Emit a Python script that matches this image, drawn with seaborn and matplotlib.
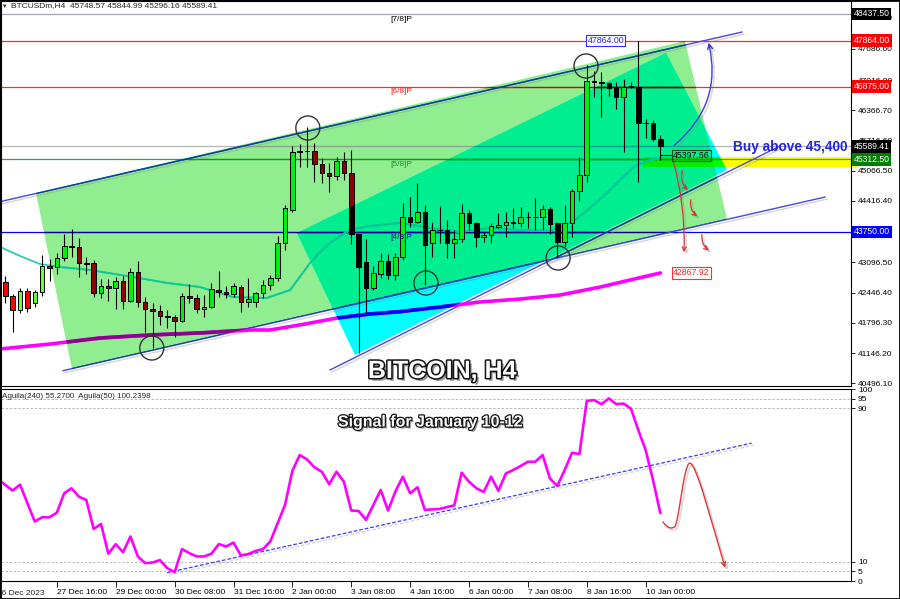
import numpy as np
import pandas as pd
import matplotlib
matplotlib.use("Agg")
import matplotlib.pyplot as plt
import matplotlib.colors as mcolors
import matplotlib.patheffects as pe
import matplotlib.transforms as mtransforms
from matplotlib.patches import Polygon, Rectangle, FancyArrowPatch
from matplotlib.path import Path
import seaborn as sns

# ==========================================
# DATA: BTCUSD H4 candles (index 1 = 26 Dec 2023 12:00)
# ==========================================
candle_idx = list(range(1, 91))
opens = [42668, 42373, 42072, 42487, 42216, 42453, 43024, 42990, 43184, 43455,
         43420, 43089, 43076, 42431, 42588, 42551, 42695, 42272, 42896, 42251,
         42093, 42050, 41943, 41928, 41842, 42379, 42336, 42087, 42130, 42502,
         42465, 42410, 42573, 42251, 42237, 42431, 42610, 42753, 43506, 44222,
         45476, 45490, 45501, 45205, 45024, 44953, 45286, 45011, 43713, 43104,
         42545, 42846, 43126, 42825, 43218, 44078, 43971, 44186, 43506, 43792,
         43800, 43506, 43592, 44164, 43936, 43648, 43685, 43850, 43900, 43957,
         43950, 44078, 44072, 44061, 44233, 43936, 43541, 43953, 44631, 44975,
         46996, 46980, 46946, 46873, 46641, 46873, 46860, 46086, 46094, 45748.57]
highs = [42803, 42416, 42538, 42538, 42502, 43255, 43162, 43291, 43706, 43807,
         43614, 43205, 43147, 42732, 42732, 42788, 42803, 42969, 43126, 42358,
         42216, 42180, 42072, 41964, 42444, 42624, 42410, 42395, 42659, 42911,
         42588, 42646, 42610, 42753, 42465, 42717, 42825, 43663, 44329, 45598,
         45641, 46007, 45673, 45340, 45233, 45368, 45476, 45512, 43713, 43599,
         43018, 43291, 43276, 43291, 44366, 44508, 44796, 44330, 43971, 44308,
         44007, 43792, 44351, 44222, 43971, 43756, 43936, 44151, 44186, 44258,
         44293, 44186, 44487, 44330, 44287, 43971, 44330, 44674, 45368, 47340,
         47211, 47183, 46980, 46980, 47039, 46980, 47864, 46170, 46157, 45844.99]
lows = [42216, 41605, 42014, 42035, 42130, 42373, 42702, 42840, 43126, 43205,
        42788, 42846, 42345, 42324, 42272, 42087, 42087, 42251, 42143, 41605,
        41249, 41750, 41679, 41498, 41820, 42216, 42001, 41928, 42109, 42358,
        42324, 42358, 42035, 42143, 42143, 42324, 42502, 42695, 43362, 44186,
        45153, 45147, 44831, 44796, 44616, 44867, 44867, 43491, 41141, 42001,
        42502, 42753, 42739, 42717, 43147, 43863, 43936, 42610, 43218, 43506,
        43184, 43184, 43541, 43792, 43433, 43541, 43506, 43829, 43648, 43829,
        43863, 43829, 43792, 43792, 43706, 43201, 43427, 43631, 44416, 44831,
        46658, 46228, 46673, 46394, 45469, 46839, 44831, 45760, 45695, 45296.16]
closes = [42373, 42072, 42487, 42109, 42453, 43024, 42981, 43184, 43448, 43420,
          43076, 43061, 42431, 42588, 42551, 42695, 42272, 42896, 42251, 42087,
          42050, 41943, 41915, 41842, 42379, 42336, 42087, 42143, 42517, 42465,
          42410, 42588, 42251, 42302, 42431, 42610, 42753, 43506, 44258, 45476,
          45497, 45501, 45205, 45024, 44953, 45286, 45011, 43713, 43003, 42545,
          42861, 43126, 42825, 43218, 44078, 43971, 44186, 43470, 43792, 43800,
          43506, 43592, 44164, 43936, 43648, 43685, 43878, 43900, 43957, 43950,
          44078, 44072, 44061, 44233, 43921, 43541, 43953, 44631, 44975, 46996,
          46970, 46946, 46839, 46641, 46873, 46895, 46086, 46082, 45748.57, 45589.41]

# moving averages (read at points)
ma_fast_idx = [0.3, 3.0, 5.7, 8.4, 12.5, 18.3, 23.0, 27.4, 31.9, 36.5, 39.7, 41.0, 42.4,
               43.8, 45.1, 46.5, 47.8, 50.5, 54.6, 58.7, 62.8, 66.8, 70.9, 75.0, 77.0,
               78.4, 80.4, 82.9, 84.5, 86.5, 88.6, 90.0]
ma_fast_val = [43427, 43233, 43061, 42997, 42932, 42782, 42653, 42567, 42352, 42330, 42502,
               42782, 43083, 43319, 43513, 43663, 43792, 43878, 43943, 43835, 43749, 43835,
               43792, 43771, 43900, 44007, 44265, 44609, 44867, 45168, 45297, 45340]
ma_slow_idx = [0.3, 7.1, 13.9, 20.7, 27.4, 34.2, 36.9, 41.0, 46.1, 50.5, 54.6, 60.1, 65.5,
               71.0, 76.4, 81.8, 85.9, 90.0]
ma_slow_val = [41234, 41341, 41470, 41535, 41578, 41642, 41642, 41750, 41900, 41986, 42036,
               42137, 42244, 42309, 42395, 42565, 42717, 42868]

# oscillator (Aguila) one value per candle, index 0..90
osc_val = [53.1, 50.0, 47.1, 50.2, 40.5, 31.0, 33.2, 33.2, 35.6, 45.7,
           48.3, 43.9, 42.2, 27.1, 29.7, 14.2, 19.2, 15.0, 23.2, 12.8,
           9.3, 9.6, 10.9, 6.7, 4.6, 16.6, 14.5, 12.8, 12.8, 14.2,
           19.2, 18.0, 20.0, 13.3, 14.0, 15.7, 16.6, 20.6, 30.1, 39.6,
           57.4, 65.6, 63.3, 59.2, 56.9, 50.4, 56.9, 51.7, 36.7, 36.5,
           31.8, 39.6, 47.4, 36.7, 46.6, 54.3, 45.7, 48.8, 37.0, 37.3,
           37.5, 38.5, 39.4, 56.4, 51.7, 48.3, 46.4, 54.3, 46.9, 56.0,
           57.8, 59.9, 62.1, 62.1, 65.6, 53.4, 49.5, 57.8, 66.8, 66.1,
           93.8, 94.2, 92.1, 95.1, 92.1, 92.4, 89.8, 78.6, 68.2, 52.6,
           35.3]

# horizontal levels
level_prices = [48437.5, 47864.0, 46875.0, 45589.41, 45312.5, 43750.0]
level_colors = ['#a4a4b4', '#ff2a2a', '#ff2a2a', '#b4b4b4', '#40a040', '#0000ff']
level_boxes = ['#000000', '#ff0000', '#ff0000', '#000000', '#008000', '#0000ff']
murrey_names = ['[7/8]P', '[6/8]P', '[5/8]P', '[4/8]P']
murrey_prices = [48437.5, 46875.0, 45312.5, 43750.0]
murrey_colors = ['#000000', '#ff2020', '#2e8b2e', '#000090']

price_ticks = [40496.1, 41146.2, 41796.3, 42446.4, 43096.5, 44416.4,
               45066.5, 45716.6, 46366.7, 47016.8, 47686.6, 48356.7]
time_ticks = [8, 16, 24, 32, 40, 48, 56, 64, 72, 80, 88]
time_labels = ['27 Dec 16:00', '29 Dec 00:00', '30 Dec 08:00', '31 Dec 16:00',
               '2 Jan 00:00', '3 Jan 08:00', '4 Jan 16:00', '6 Jan 00:00',
               '7 Jan 08:00', '8 Jan 16:00', '10 Jan 00:00']

# drawn objects (index, price)
light_zone_x = [5.16, 10.05, 99.05, 93.34]
light_zone_y = [44587.5, 40803.5, 44028.5, 47855.5]
bright_zone_x = [40.63, 48.5, 99.05, 90.76]
bright_zone_y = [43727.5, 41104.5, 45082.0, 47597.5]
channel_lines = [((0.27, 44400.5), (101.1, 48049.0)),
                 ((8.83, 40767.0), (112.4, 44501.5)),
                 ((45.1, 40782.0), (106.25, 45598.0))]
circle_x = [42.1, 79.9, 58.15, 76.1, 20.9]
circle_y = [45985, 47318, 42652, 43190, 41255]
buy_zone = (45150, 45360)

LIGHT = '#90EE90'
BRIGHT = '#00FFFF'


def band(color, *masks):
    # MT4 draws background objects by AND-ing colours
    v = np.array([int(round(c * 255)) for c in mcolors.to_rgb(color)])
    for m in masks:
        v = v & np.array([int(round(c * 255)) for c in mcolors.to_rgb(m)])
    return tuple(v / 255.0)


def intersect(subj, clip):
    def area(p):
        return sum(p[i][0] * p[(i + 1) % len(p)][1] - p[(i + 1) % len(p)][0] * p[i][1]
                   for i in range(len(p)))
    s = np.sign(area(clip))

    def inside(a, b, p):
        return s * ((b[0] - a[0]) * (p[1] - a[1]) - (b[1] - a[1]) * (p[0] - a[0])) >= 0

    def cut(p, q, a, b):
        x1, y1 = p; x2, y2 = q; x3, y3 = a; x4, y4 = b
        den = (x1 - x2) * (y3 - y4) - (y1 - y2) * (x3 - x4)
        t = ((x1 - x3) * (y3 - y4) - (y1 - y3) * (x3 - x4)) / den
        return (x1 + t * (x2 - x1), y1 + t * (y2 - y1))

    out = list(subj)
    for i in range(len(clip)):
        a, b = clip[i], clip[(i + 1) % len(clip)]
        inp, out = out, []
        for j in range(len(inp)):
            p, q = inp[j - 1], inp[j]
            if inside(a, b, q):
                if not inside(a, b, p):
                    out.append(cut(p, q, a, b))
                out.append(q)
            elif inside(a, b, p):
                out.append(cut(p, q, a, b))
    return out


# ==========================================
# FIGURE
# ==========================================
sns.set_theme(style="white")
plt.rcParams['font.family'] = ['Liberation Sans', 'DejaVu Sans']
plt.rcParams['axes.linewidth'] = 0.8

W, H = 900, 599
fig = plt.figure(figsize=(9, 5.99), dpi=100)
ax = fig.add_axes([1 / W, 1 - 386 / H, 850 / W, 385 / H])
axi = fig.add_axes([1 / W, 1 - 581 / H, 850 / W, 192 / H])
XLIM = (0.41, 115.9)

light = list(zip(light_zone_x, light_zone_y))
bright = list(zip(bright_zone_x, bright_zone_y))
both = intersect(bright, light)

ax.add_patch(Polygon(light, closed=True, fc=LIGHT, ec='none', zorder=1))
ax.add_patch(Polygon(bright, closed=True, fc=BRIGHT, ec='none', zorder=1))
ax.add_patch(Polygon(both, closed=True, fc=band(LIGHT, BRIGHT), ec='none', zorder=1))

regions = [(Polygon(light, closed=True, transform=ax.transData), [LIGHT]),
           (Polygon(bright, closed=True, transform=ax.transData), [BRIGHT]),
           (Polygon(both, closed=True, transform=ax.transData), [LIGHT, BRIGHT])]


def layered(draw, color):
    draw(color, None)
    for patch, masks in regions:
        arts = draw(band(color, *masks), patch)
        for a in arts:
            a.set_clip_path(patch)


# yellow buy zone
def draw_zone(c, clip):
    r = Rectangle((87.6, buy_zone[0]), 116.85 - 87.6, buy_zone[1] - buy_zone[0],
                  fc=c, ec='none', zorder=1.5)
    ax.add_patch(r)
    if clip is None:
        r.set_clip_on(False)
    return [r]


layered(draw_zone, '#ffff00')

# horizontal levels
for lp, lc in zip(level_prices, level_colors):
    layered(lambda c, clip, lp=lp: [ax.axhline(lp, color=c, lw=0.9, zorder=2)], lc)

# channel / trend lines
shadow = [pe.SimpleLineShadow(offset=(1.5, -1.5), shadow_color='#888888', alpha=0.35), pe.Normal()]
for (x0, y0), (x1, y1) in channel_lines:
    def draw_ch(c, clip, x0=x0, y0=y0, x1=x1, y1=y1):
        ln, = ax.plot([x0, x1], [y0, y1], color=c, lw=1.0, zorder=2.5)
        if clip is None:
            ln.set_path_effects(shadow)
        return [ln]
    layered(draw_ch, '#4848dc')


# moving averages
def draw_ma(xs, ys, lw):
    def f(c, clip):
        if clip is None:
            sns.lineplot(x=xs, y=ys, ax=ax, color=c, lw=lw, zorder=3)
            return []
        ln, = ax.plot(xs, ys, color=c, lw=lw, zorder=3)
        return [ln]
    return f


layered(draw_ma(ma_fast_idx, ma_fast_val, 1.3), '#30c8b8')
layered(draw_ma(ma_slow_idx, ma_slow_val, 2.6), '#ff00ff')

# candles
df = pd.DataFrame({'i': candle_idx, 'o': opens, 'h': highs, 'l': lows, 'c': closes})
df['bottom'] = df[['o', 'c']].min(axis=1)
df['height'] = (df['c'] - df['o']).abs()
ax.vlines(df['i'], df['l'], df['h'], color='black', lw=0.8, zorder=3.5)
for mask, col in [(df['c'] >= df['o'], '#66ff33'), (df['c'] < df['o'], '#ff0000')]:
    sub = df[mask]

    def draw_body(c, clip, sub=sub):
        bars = ax.bar(sub['i'], sub['height'], bottom=sub['bottom'], width=0.62,
                      color=c, edgecolor='black', linewidth=0.7, zorder=4)
        return list(bars)
    layered(draw_body, col)

# circles
ax.scatter(circle_x, circle_y, s=300, facecolors='none', edgecolors='#333333',
           linewidths=1.0, zorder=6)

# arrows
ax.add_patch(FancyArrowPatch((91.6, 45576), (96.47, 47877), connectionstyle='arc3,rad=0.32',
                             arrowstyle='->', mutation_scale=9, color='#3b3bdd', lw=1.0,
                             zorder=7, path_effects=shadow))
for a, b, r in [((91.7, 45297), (93.2, 43255), -0.08),
                ((93.1, 45125), (94.0, 44609), 0.35),
                ((94.2, 44500), (95.3, 44050), 0.35),
                ((95.7, 43750), (96.9, 43320), 0.35)]:
    ax.add_patch(FancyArrowPatch(a, b, connectionstyle=f'arc3,rad={r}', arrowstyle='->',
                                 mutation_scale=7, color='#d83030', lw=0.9, zorder=7,
                                 path_effects=shadow))

# labels inside chart
for name, mp, mc in zip(murrey_names, murrey_prices, murrey_colors):
    ax.text(53.3, mp - 40, name, color=mc, fontsize=6, va='top', ha='left', zorder=8)

ax.text(80.1, 47864, '47864.00', color='#2020ff', fontsize=6.3, ha='left', va='center', zorder=8,
        bbox=dict(boxstyle='square,pad=0.15', fc='white', ec='#3030ff', lw=0.8))
ax.text(91.7, 45397.66, '45397.66', color='black', fontsize=6.3, ha='left', va='center', zorder=8,
        bbox=dict(boxstyle='square,pad=0.15', fc='none', ec='#1a4a1a', lw=0.8))
ax.plot([89.9, 91.6], [45397.66, 45397.66], color='black', lw=0.8, zorder=7)
ax.text(91.7, 42867.92, '42867.92', color='#ff2020', fontsize=6.3, ha='left', va='center', zorder=8,
        bbox=dict(boxstyle='square,pad=0.15', fc='white', ec='#ff3030', lw=0.8))

ax.text(99.8, 45575, 'Buy above 45,400', color='#2323e6', fontsize=9.8,
        fontweight='bold', ha='left', va='center', zorder=8, clip_on=False)

# price axis
blend = mtransforms.blended_transform_factory(ax.transAxes, ax.transData)
ax.set_xlim(*XLIM)
ax.set_ylim(40438, 48715.5)
ax.yaxis.tick_right()
ax.set_yticks(price_ticks)
ax.set_yticklabels([f'{t:.2f}' for t in price_ticks])
ax.tick_params(axis='y', labelsize=6, length=3, width=0.6, pad=2, colors='black', right=True)
ax.tick_params(axis='x', bottom=False, labelbottom=False)
ax.set_xlabel('')
ax.set_ylabel('')
for lp, bc in zip(level_prices, level_boxes):
    ax.text(1.003, lp, f'{lp:.2f}', transform=blend, color='white', fontsize=6.2,
            ha='left', va='center', clip_on=False, zorder=9,
            bbox=dict(boxstyle='square,pad=0.22', fc=bc, ec='none'))

# ==========================================
# OSCILLATOR PANEL
# ==========================================
for v in [5, 10, 90, 95]:
    axi.axhline(v, color='#b0b0b0', lw=0.6, ls=(0, (3, 2)), zorder=1)
sns.lineplot(x=list(range(len(osc_val))), y=osc_val, ax=axi, color='#ff00ff', lw=1.9, zorder=3)
axi.plot([22.96, 102.4], [4.3, 71.8], color='#3a3aff', lw=0.9, ls=(0, (3, 1.5)), zorder=2,
         path_effects=shadow)
curve = Path([(90.35, 30.8), (91.0, 27.2), (91.6, 27.0), (92.0, 28.5),
              (92.6, 33.0), (93.2, 61.4), (94.0, 61.4),
              (94.9, 61.4), (97.0, 30.0), (98.8, 6.9)],
             [Path.MOVETO] + [Path.CURVE4] * 9)
axi.add_patch(FancyArrowPatch(path=curve, arrowstyle='->', mutation_scale=8, color='#e03535',
                              lw=1.0, zorder=4, path_effects=shadow))

axi.set_xlim(*XLIM)
axi.set_ylim(0, 100)
axi.yaxis.tick_right()
axi.set_yticks([0, 5, 10, 90, 95, 100])
axi.set_yticklabels(['0', '5', '10', '90', '95', '100'])
axi.tick_params(axis='y', labelsize=6, length=3, width=0.6, pad=2, colors='black', right=True)
axi.set_xticks(time_ticks)
axi.set_xticklabels(time_labels, ha='left')
axi.tick_params(axis='x', labelsize=6, length=4, width=0.6, pad=2, colors='black', bottom=True)
axi.set_xlabel('')
axi.set_ylabel('')
axi.text(-0.15, -4.5, '26 Dec 2023', fontsize=6, ha='left', va='top', clip_on=False)

for a in (ax, axi):
    for sp in a.spines.values():
        sp.set_color('black')
        sp.set_linewidth(0.8)

# texts
fig.text(2 / W, 1 - 6 / H, '\u25bc', fontsize=4, va='center', ha='left')
fig.text(11 / W, 1 - 6 / H, 'BTCUSDm,H4  45748.57 45844.99 45296.16 45589.41',
         fontsize=6, va='center', ha='left')
fig.text(2 / W, 1 - 396 / H, 'Aguila(240) 55.2700  Aguila(50) 100.2398',
         fontsize=5.8, va='center', ha='left', zorder=10)
fig.text(442 / W, 1 - 371 / H, 'BITCOIN, H4', fontsize=18, fontweight='bold', color='white',
         ha='center', va='center', zorder=10,
         path_effects=[pe.SimplePatchShadow(offset=(2, -2), shadow_rgbFace='#555555', alpha=0.6),
                       pe.Stroke(linewidth=2.2, foreground='#111111'), pe.Normal()])
fig.text(431 / W, 1 - 422 / H, 'Signal for January 10-12', fontsize=11.5, fontweight='bold',
         color='white', ha='center', va='center', zorder=10,
         path_effects=[pe.SimplePatchShadow(offset=(1.5, -1.5), shadow_rgbFace='#555555', alpha=0.6),
                       pe.Stroke(linewidth=1.8, foreground='#111111'), pe.Normal()])

fig.patches.append(Rectangle((0, 0), 1, 1, transform=fig.transFigure, fill=False,
                             ec='black', lw=2.0, zorder=20))

fig.savefig('out.png', dpi=100)
